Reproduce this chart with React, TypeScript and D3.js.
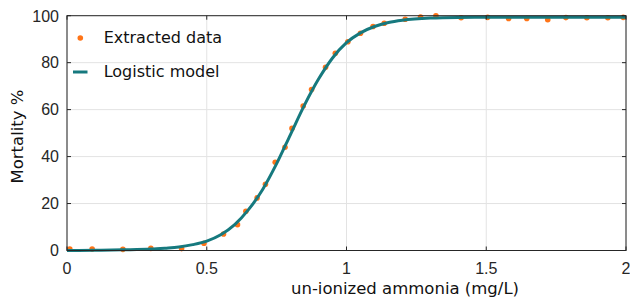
import * as d3 from "d3";

// extracted (measured) points
const dataX = [0.01, 0.09, 0.2, 0.3, 0.41, 0.49, 0.56, 0.61, 0.64, 0.68, 0.71, 0.745, 0.78, 0.805, 0.845, 0.875, 0.925, 0.96, 1.005, 1.05, 1.095, 1.135, 1.21, 1.265, 1.32, 1.41, 1.505, 1.58, 1.645, 1.72, 1.785, 1.86, 1.935, 1.99];
const dataY = [0.6, 0.6, 0.5, 0.9, 0.8, 3.1, 7, 11, 16.7, 22.4, 28.2, 37.6, 44, 52, 61.5, 68.6, 78, 84, 88.9, 92.5, 95.4, 96.8, 98.5, 99.4, 100, 99.1, 99.3, 98.8, 98.8, 98.3, 99.2, 99.1, 99.1, 99.3];

// logistic model curve
const modelX = [0, 0.1, 0.2, 0.3, 0.35, 0.4, 0.45, 0.5, 0.55, 0.6, 0.65, 0.7, 0.75, 0.8, 0.85, 0.9, 0.95, 1.0, 1.05, 1.1, 1.15, 1.2, 1.3, 1.4, 1.5, 1.75, 2.0];
const modelY = [0.0, 0.1, 0.3, 0.6, 1.0, 1.5, 2.5, 4.0, 6.7, 11, 17.5, 26, 37, 49.5, 62, 73, 82, 88.5, 92.7, 95.4, 97.1, 98.1, 99.0, 99.25, 99.3, 99.3, 99.3];

const xTicks = [0, 0.5, 1, 1.5, 2];
const yTicks = [0, 20, 40, 60, 80, 100];
const legendLabels = ["Extracted data", "Logistic model"];

const W = 630;
const H = 303;
const margin = { left: 67, right: 4, top: 15.7, bottom: 52.5 };

const ORANGE = "#ff7417";
const TEAL = "#16797e";
const AXIS = "#262626";
const GRID = "#e3e3e3";
const TICK_FONT = "'Liberation Sans', Arial, sans-serif";
const LABEL_FONT = "'DejaVu Sans', sans-serif";

export default function App() {
  const x = d3.scaleLinear().domain([0, 2]).range([margin.left, W - margin.right]);
  const y = d3.scaleLinear().domain([0, 100]).range([H - margin.bottom, margin.top]);
  const [x0, x1] = x.range();
  const [y0, y1] = y.range();

  const pts = dataX.map((v, i) => ({ x: v, y: dataY[i] }));
  const model = modelX.map((v, i) => ({ x: v, y: modelY[i] }));

  const line = d3
    .line<{ x: number; y: number }>()
    .x((d) => x(d.x))
    .y((d) => y(d.y))
    .curve(d3.curveMonotoneX);

  const tickLen = 4;

  return (
    <div style={{ position: "fixed", left: 0, top: 0 }}>
      <svg width={W} height={H} style={{ display: "block", background: "#fff" }}>
        {/* grid */}
        {xTicks.map((t) => (
          <line key={"gx" + t} x1={x(t)} x2={x(t)} y1={y1} y2={y0} stroke={GRID} strokeWidth={1} />
        ))}
        {yTicks.map((t) => (
          <line key={"gy" + t} x1={x0} x2={x1} y1={y(t)} y2={y(t)} stroke={GRID} strokeWidth={1} />
        ))}

        {/* data points under the model line */}
        {pts.map((d, i) => (
          <circle key={"p" + i} cx={x(d.x)} cy={y(d.y)} r={2.8} fill={ORANGE} />
        ))}
        <path d={line(model) ?? ""} fill="none" stroke={TEAL} strokeWidth={3} />

        {/* box + inward ticks */}
        <rect x={x0} y={y1} width={x1 - x0} height={y0 - y1} fill="none" stroke={AXIS} strokeWidth={1} />
        {xTicks.map((t) => (
          <g key={"tx" + t}>
            <line x1={x(t)} x2={x(t)} y1={y0} y2={y0 - tickLen} stroke={AXIS} />
            <line x1={x(t)} x2={x(t)} y1={y1} y2={y1 + tickLen} stroke={AXIS} />
            <text x={x(t)} y={y0 + 23.5} textAnchor="middle" fontFamily={TICK_FONT} fontSize={16} fill="#262626">
              {t}
            </text>
          </g>
        ))}
        {yTicks.map((t) => (
          <g key={"ty" + t}>
            <line x1={x0} x2={x0 + tickLen} y1={y(t)} y2={y(t)} stroke={AXIS} />
            <line x1={x1} x2={x1 - tickLen} y1={y(t)} y2={y(t)} stroke={AXIS} />
            <text x={x0 - 8} y={y(t) + 5.8} textAnchor="end" fontFamily={TICK_FONT} fontSize={16} fill="#262626">
              {t}
            </text>
          </g>
        ))}

        {/* axis labels */}
        <text x={405} y={294} textAnchor="middle" fontFamily={LABEL_FONT} fontSize={16.5} fill="#111">
          un-ionized ammonia (mg/L)
        </text>
        <text
          transform={`translate(23,136.5) rotate(-90)`}
          textAnchor="middle"
          fontFamily={LABEL_FONT}
          fontSize={16.5}
          fill="#111"
        >
          Mortality %
        </text>

        {/* legend */}
        <circle cx={80.3} cy={38} r={2.8} fill={ORANGE} />
        <line x1={73} x2={87.5} y1={72} y2={72} stroke={TEAL} strokeWidth={3} />
        <text x={103.7} y={42.5} fontFamily={LABEL_FONT} fontSize={16} fill="#111">
          {legendLabels[0]}
        </text>
        <text x={103.7} y={77} fontFamily={LABEL_FONT} fontSize={16} fill="#111">
          {legendLabels[1]}
        </text>
      </svg>
    </div>
  );
}
